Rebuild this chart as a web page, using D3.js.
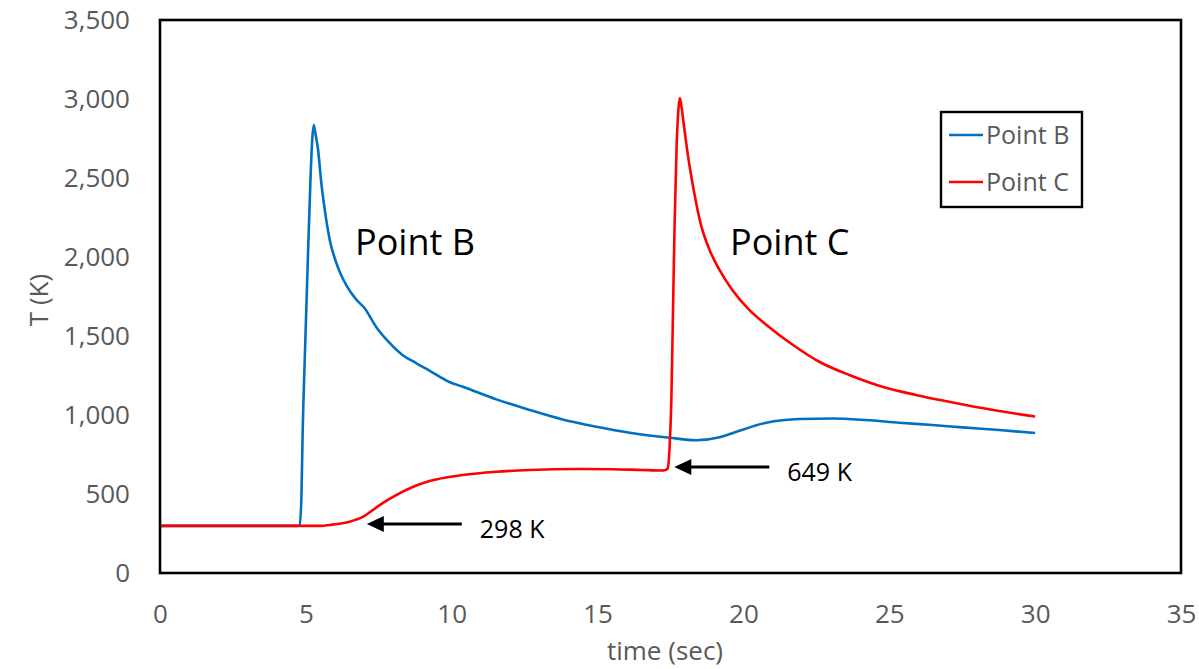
<!DOCTYPE html>
<html>
<head>
<meta charset="utf-8">
<script src="https://cdn.jsdelivr.net/npm/d3@7"></script>
<style>
  html, body { margin: 0; padding: 0; background: #fff; }
  svg { display: block; font-family: "Open Sans", "Noto Sans", sans-serif; }
</style>
</head>
<body>
<svg id="chart" width="1199" height="669"></svg>
<script>
// Temperature history at two monitoring points
const timeB = [0, 4.7, 4.79, 4.85, 4.89, 4.97, 5.06, 5.16, 5.22, 5.27, 5.32, 5.42, 5.53, 5.65, 5.82, 6.05, 6.39, 6.73, 7.01, 7.41, 7.87, 8.31, 8.78, 9.25, 9.92, 10.38, 11.53, 12.67, 13.8, 14.96, 16.1, 17.47, 18.38, 19.18, 19.62, 20.78, 21.92, 23.05, 24.2, 25.34, 26.47, 27.63, 28.77, 30.0];
const tempB = [298, 298, 300, 500, 886, 1400, 1937, 2500, 2750, 2835, 2790, 2677, 2468, 2297, 2108, 1960, 1820, 1730, 1677, 1557, 1456, 1380, 1329, 1280, 1209, 1179, 1099, 1032, 972, 926, 888, 856, 840, 859, 885, 951, 975, 978, 968, 951, 937, 920, 905, 886];

const timeC = [0, 5.5, 5.82, 6.5, 6.95, 7.53, 8.11, 8.66, 9.24, 10.37, 11.53, 12.66, 14.37, 15.5, 16.5, 17.2, 17.3, 17.4, 17.47, 17.53, 17.58, 17.64, 17.71, 17.77, 17.82, 17.87, 17.95, 18.1, 18.3, 18.55, 18.85, 19.18, 19.62, 20.2, 20.79, 21.7, 22.6, 23.63, 24.76, 25.91, 27.05, 28.18, 30.0];
const tempC = [298, 298, 304, 325, 355, 430, 494, 544, 582, 620, 641, 652, 658, 657, 652, 649, 650, 660, 800, 1100, 1600, 2200, 2700, 2930, 3006, 2960, 2848, 2640, 2420, 2200, 2040, 1918, 1791, 1665, 1570, 1443, 1337, 1253, 1179, 1127, 1084, 1044, 990];

const seriesNames = ["Point B", "Point C"];
const seriesColors = ["#0070C0", "#FF0000"];

const xTicks = [0, 5, 10, 15, 20, 25, 30, 35];
const yTicks = [0, 500, 1000, 1500, 2000, 2500, 3000, 3500];

// Arrow callouts: the temperature each arrow points to
const calloutValues = [298, 649];
const calloutTimes = [7.09, 17.63];

const svg = d3.select("#chart");
const plot = { left: 160, top: 20, right: 1181, bottom: 573 };

const x = d3.scaleLinear().domain([0, 35]).range([plot.left, plot.right]);
const y = d3.scaleLinear().domain([0, 3500]).range([plot.bottom, plot.top]);

const grey = "#595959";

// Axes (labels only, no tick marks)
const xAxis = svg.append("g")
  .attr("transform", `translate(0,${plot.bottom})`)
  .call(d3.axisBottom(x).tickValues(xTicks).tickSize(0).tickPadding(32).tickFormat(d3.format("d")));
const yAxis = svg.append("g")
  .attr("transform", `translate(${plot.left},0)`)
  .call(d3.axisLeft(y).tickValues(yTicks).tickSize(0).tickPadding(30).tickFormat(d3.format(",")));
[xAxis, yAxis].forEach(g => {
  g.select(".domain").remove();
  g.selectAll("text").attr("fill", grey).style("font-size", "26px").style("font-family", "'Open Sans', sans-serif");
});

// Axis titles
svg.append("text")
  .attr("x", 665).attr("y", 660)
  .attr("text-anchor", "middle")
  .attr("fill", grey).style("font-size", "26px")
  .text("time (sec)");
svg.append("text")
  .attr("transform", "translate(48,300) rotate(-90)")
  .attr("text-anchor", "middle")
  .attr("fill", grey).style("font-size", "26px")
  .text("T (K)");

// Series lines
const line = d3.line()
  .x(d => x(d[0]))
  .y(d => y(d[1]))
  .curve(d3.curveMonotoneX);

const seriesData = [
  d3.zip(timeB, tempB),
  d3.zip(timeC, tempC)
];

svg.append("g").selectAll("path")
  .data(seriesData)
  .join("path")
  .attr("d", line)
  .attr("fill", "none")
  .attr("stroke", (d, i) => seriesColors[i])
  .attr("stroke-width", 2.6)
  .attr("stroke-linejoin", "round");

// Plot frame
svg.append("rect")
  .attr("x", plot.left).attr("y", plot.top)
  .attr("width", plot.right - plot.left)
  .attr("height", plot.bottom - plot.top)
  .attr("fill", "none")
  .attr("stroke", "#000")
  .attr("stroke-width", 2.6);

// Peak labels
svg.append("text").attr("x", 355).attr("y", 255)
  .style("font-size", "36px").attr("fill", "#000").text("Point B");
svg.append("text").attr("x", 730).attr("y", 255)
  .style("font-size", "36px").attr("fill", "#000").text("Point C");

// Arrow callouts
const calloutY = [524, 467];
const calloutLen = [95, 95];
calloutValues.forEach((v, i) => {
  const tipX = x(calloutTimes[i]);
  svg.append("line")
    .attr("x1", tipX + calloutLen[i]).attr("y1", calloutY[i])
    .attr("x2", tipX + 14).attr("y2", calloutY[i])
    .attr("stroke", "#000").attr("stroke-width", 3.2);
  svg.append("path")
    .attr("d", `M${tipX},${calloutY[i]} L${tipX + 17},${calloutY[i] - 8} L${tipX + 17},${calloutY[i] + 8} Z`)
    .attr("fill", "#000");
  svg.append("text")
    .attr("x", tipX + calloutLen[i] + 18)
    .attr("y", calloutY[i] + 14)
    .style("font-size", "25px").attr("fill", "#000")
    .text(`${v} K`);
});

// Legend
const legend = svg.append("g");
legend.append("rect")
  .attr("x", 941).attr("y", 112).attr("width", 141).attr("height", 95)
  .attr("fill", "#fff").attr("stroke", "#000").attr("stroke-width", 2.4);
seriesNames.forEach((name, i) => {
  const ly = 135 + i * 47;
  legend.append("line")
    .attr("x1", 949).attr("x2", 983).attr("y1", ly).attr("y2", ly)
    .attr("stroke", seriesColors[i]).attr("stroke-width", 2.6);
  legend.append("text")
    .attr("x", 986).attr("y", ly + 9)
    .attr("fill", grey).style("font-size", "25px")
    .text(name);
});
</script>
</body>
</html>
